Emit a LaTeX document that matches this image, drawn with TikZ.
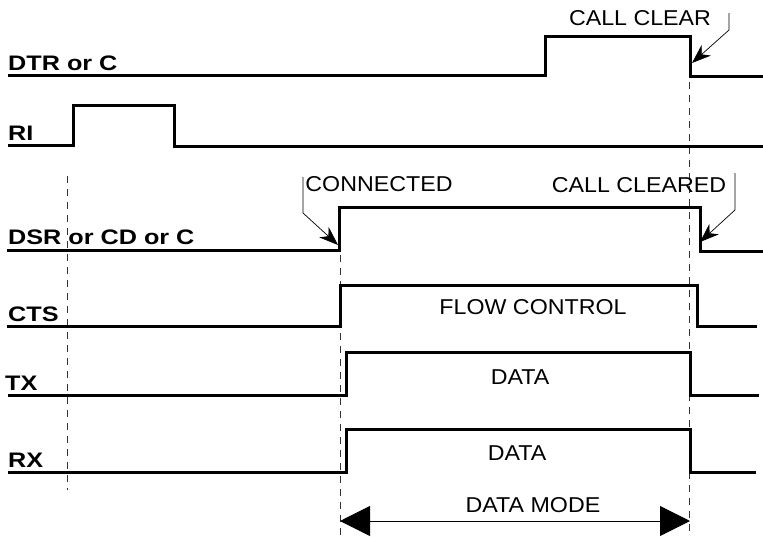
\documentclass[tikz,border=0pt]{standalone}
\usepackage{fontspec}
\setmainfont{Liberation Sans}
\usetikzlibrary{arrows.meta}

\begin{document}
\begin{tikzpicture}[x=1pt,y=-1pt,
  wave/.style={line width=3pt, line join=miter},
  guide/.style={line width=0.8pt, dash pattern=on 7pt off 6pt, black!80},
  sig/.style={font=\fontsize{21}{23}\selectfont\bfseries, anchor=base west, inner sep=0pt, xscale=1.2},
  note/.style={font=\fontsize{21.5}{23}\selectfont, inner sep=0pt, xscale=1.08},
  callout/.style={line width=0.7pt, -{Stealth[length=19pt,width=14pt,inset=6pt]}},
  span/.style={line width=0.8pt, {Triangle[length=30pt,width=30pt]}-{Triangle[length=30pt,width=30pt]}},
]
\useasboundingbox (0,0) rectangle (763,536);

% signal names
\node[sig] (dtr) at (8,70)  {DTR or C};
\node[sig] (ri)  at (8,140) {RI};
\node[sig] (dsr) at (8,244) {DSR or CD or C};
\node[sig] (cts) at (8,321) {CTS};
\node[sig] (tx)  at (5,390) {TX};
\node[sig] (rx)  at (8,467) {RX};

% timing guides
\draw[guide] (67,176) -- (67,490);
\draw[guide] (340,255) -- (340,536);
\draw[guide] (689,82) -- (689,536);

% waveforms
\draw[wave] (8,75) -- (545,75) -- (545,36) -- (690,36) -- (690,76) -- (763,76);
\draw[wave] (8,145) -- (73,145) -- (73,105) -- (174,105) -- (174,146) -- (763,146);
\draw[wave] (7,250) -- (339,250) -- (339,207) -- (700,207) -- (700,251) -- (763,251);
\draw[wave] (7,326) -- (340,326) -- (340,285) -- (697,285) -- (697,326) -- (757,326);
\draw[wave] (8,395) -- (346,395) -- (346,352) -- (690,352) -- (690,395) -- (759,395);
\draw[wave] (8,472) -- (346,472) -- (346,429) -- (690,429) -- (690,472) -- (756,472);

% texts inside the pulses
\node[note] (flow) at (533,307) {FLOW CONTROL};
\node[note] (txd)  at (520,377) {DATA};
\node[note] (rxd)  at (517,453) {DATA};

% event callouts
\node[note] (clr)  at (640,18)  {CALL CLEAR};
\coordinate (clrA) at (729,13);
\coordinate (clrB) at (729,30);
\coordinate (clrT) at (692,63);
\draw[callout] (clrA) -- (clrB) -- (clrT);

\node[note] (con)  at (379,184) {CONNECTED};
\coordinate (conA) at (303,177);
\coordinate (conB) at (303,213);
\coordinate (conT) at (338,245);
\draw[callout] (conA) -- (conB) -- (conT);

\node[note] (clrd) at (639,185) {CALL CLEARED};
\coordinate (clrdA) at (735,173);
\coordinate (clrdB) at (735,210);
\coordinate (clrdT) at (700,242);
\draw[callout] (clrdA) -- (clrdB) -- (clrdT);

% data mode span
\node[note] (mode) at (533,505) {DATA MODE};
\coordinate (modeL) at (340,521);
\coordinate (modeR) at (690,521);
\draw[span] (modeL) -- (modeR);
\end{tikzpicture}
\end{document}
